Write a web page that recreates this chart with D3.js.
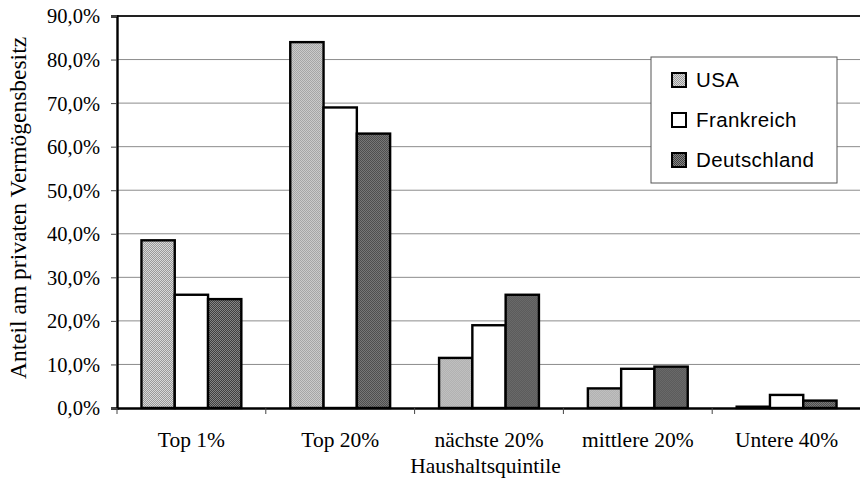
<!DOCTYPE html>
<html>
<head>
<meta charset="utf-8">
<script src="https://cdn.jsdelivr.net/npm/d3@7"></script>
<style>
  body { margin: 0; background: #fff; }
  svg { display: block; }
</style>
</head>
<body>
<div id="chart"></div>
<script>
var categories = ["Top 1%", "Top 20%", "nächste 20%", "mittlere 20%", "Untere 40%"];
var seriesNames = ["USA", "Frankreich", "Deutschland"];
var usa = [38.5, 84, 11.5, 4.5, 0.3];
var frankreich = [26, 69, 19, 9, 3];
var deutschland = [25, 63, 26, 9.5, 1.7];
var yTicks = [0, 10, 20, 30, 40, 50, 60, 70, 80, 90];

var width = 860, height = 484;
var margin = { top: 16, right: 0, bottom: 76, left: 117 };
var serif = "Liberation Serif, Times New Roman, serif";

var svg = d3.select("#chart").append("svg")
  .attr("width", width)
  .attr("height", height);

// stipple fills like the scanned original
var defs = svg.append("defs");
function stipple(id, a, b) {
  var p = defs.append("pattern").attr("id", id)
    .attr("width", 2).attr("height", 2)
    .attr("patternUnits", "userSpaceOnUse");
  p.append("rect").attr("width", 2).attr("height", 2).attr("fill", a);
  p.append("rect").attr("width", 1).attr("height", 1).attr("fill", b);
  p.append("rect").attr("x", 1).attr("y", 1).attr("width", 1).attr("height", 1).attr("fill", b);
}
stipple("pUSA", "#d8d8d8", "#999999");
stipple("pDE", "#858585", "#404040");
var fills = ["url(#pUSA)", "#ffffff", "url(#pDE)"];

var x0 = d3.scaleBand()
  .domain(categories)
  .range([margin.left, width - margin.right + 1])
  .paddingInner(0)
  .paddingOuter(0);

var x1 = d3.scaleBand()
  .domain(seriesNames)
  .range([0, x0.bandwidth()])
  .paddingOuter(0.735)
  .paddingInner(0);

var y = d3.scaleLinear()
  .domain([0, 90])
  .range([height - margin.bottom, margin.top]);

// gridlines
svg.append("g")
  .selectAll("line")
  .data(yTicks.slice(1, -1))
  .join("line")
  .attr("x1", margin.left)
  .attr("x2", width)
  .attr("y1", d => y(d))
  .attr("y2", d => y(d))
  .attr("stroke", "#8c8c8c")
  .attr("stroke-width", 1);

// top line
svg.append("line")
  .attr("x1", margin.left).attr("x2", width)
  .attr("y1", y(90)).attr("y2", y(90))
  .attr("stroke", "#222").attr("stroke-width", 2);

// bars
var rows = categories.map((c, i) => ({ cat: c, vals: [usa[i], frankreich[i], deutschland[i]] }));
var groups = svg.append("g")
  .selectAll("g")
  .data(rows)
  .join("g")
  .attr("transform", d => "translate(" + x0(d.cat) + ",0)");

groups.selectAll("rect")
  .data(d => d.vals.map((v, j) => ({ name: seriesNames[j], v: v, j: j })))
  .join("rect")
  .attr("x", d => x1(d.name))
  .attr("width", x1.bandwidth())
  .attr("y", d => y(d.v))
  .attr("height", d => y(0) - y(d.v))
  .attr("fill", d => fills[d.j])
  .attr("stroke", "#000")
  .attr("stroke-width", 2.4);

// y axis
var yAxis = svg.append("g")
  .attr("transform", "translate(" + margin.left + ",0)")
  .call(d3.axisLeft(y).tickValues(yTicks).tickSize(6)
    .tickFormat(d => d.toFixed(1).replace(".", ",") + "%"));
yAxis.select(".domain").attr("stroke", "#000").attr("stroke-width", 2.4);
yAxis.selectAll(".tick line").attr("stroke", "#444");
yAxis.selectAll("text")
  .attr("font-family", serif)
  .attr("font-size", 20.5)
  .attr("fill", "#000")
  .attr("x", -17)
  .attr("dy", "0.34em");

// x axis
var xAxis = svg.append("g")
  .attr("transform", "translate(0," + y(0) + ")")
  .call(d3.axisBottom(x0).tickSize(0).tickSizeOuter(0));
xAxis.select(".domain").attr("stroke", "#000").attr("stroke-width", 2.4);
xAxis.selectAll("text")
  .attr("font-family", serif)
  .attr("font-size", 21.5)
  .attr("fill", "#000")
  .attr("y", 39)
  .attr("dy", 0);

// separator ticks between categories
svg.append("g")
  .selectAll("line")
  .data(categories)
  .join("line")
  .attr("x1", d => x0(d))
  .attr("x2", d => x0(d))
  .attr("y1", y(0))
  .attr("y2", y(0) + 6)
  .attr("stroke", "#444");

// axis titles
svg.append("text")
  .attr("x", (margin.left + width) / 2 - 3)
  .attr("y", 473)
  .attr("text-anchor", "middle")
  .attr("font-family", serif)
  .attr("font-size", 21.5)
  .text("Haushaltsquintile");

svg.append("text")
  .attr("transform", "translate(26," + ((margin.top + y(0)) / 2 - 4) + ") rotate(-90)")
  .attr("text-anchor", "middle")
  .attr("font-family", serif)
  .attr("font-size", 23.5)
  .text("Anteil am privaten Vermögensbesitz");

// legend
var lg = svg.append("g").attr("transform", "translate(651,57)");
lg.append("rect")
  .attr("width", 186).attr("height", 126)
  .attr("fill", "#fff").attr("stroke", "#555").attr("stroke-width", 1);
var items = lg.selectAll("g")
  .data(seriesNames)
  .join("g")
  .attr("transform", (d, i) => "translate(21," + (23 + i * 40) + ")");
items.append("rect")
  .attr("x", 0).attr("y", -7)
  .attr("width", 14).attr("height", 14)
  .attr("fill", (d, i) => fills[i])
  .attr("stroke", "#000").attr("stroke-width", 2);
items.append("text")
  .attr("x", 24).attr("y", 0)
  .attr("dy", "0.36em")
  .attr("font-family", "Liberation Sans, Arial, sans-serif")
  .attr("font-size", 20.5)
  .attr("letter-spacing", 0.4)
  .text(d => d);
</script>
</body>
</html>
